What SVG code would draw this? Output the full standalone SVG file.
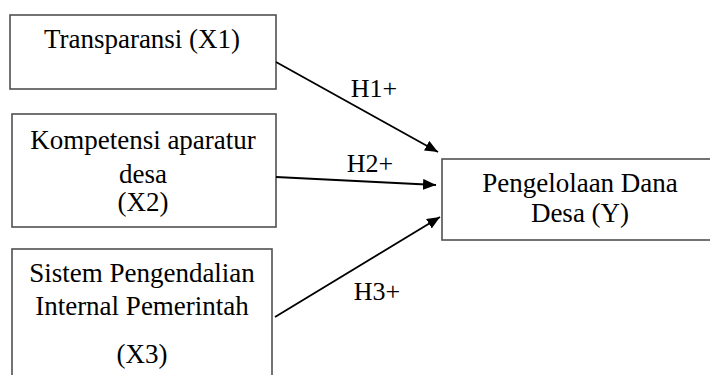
<svg xmlns="http://www.w3.org/2000/svg" width="710" height="375" viewBox="0 0 710 375">
<defs>
<style>
.box{fill:#fff;stroke:#505050;stroke-width:1.6}
.t{font-family:"Liberation Serif","Times New Roman",serif;font-size:27px;fill:#000;text-anchor:middle}
.lbl{font-family:"Liberation Serif","Times New Roman",serif;font-size:26px;fill:#000;text-anchor:middle}
.arr{stroke:#000;stroke-width:1.8;fill:none;marker-end:url(#ah)}
</style>
<marker id="ah" markerUnits="userSpaceOnUse" markerWidth="14" markerHeight="12" refX="13" refY="5.5" orient="auto">
<path d="M0,0 L13,5.5 L0,11 z" fill="#000"/>
</marker>
</defs>
<rect width="710" height="375" fill="#fff"/>
<g id="x1">
<rect class="box" x="10" y="15" width="266" height="74"/>
<text class="t" x="142" y="48">Transparansi (X1)</text>
</g>
<g id="x2">
<rect class="box" x="12" y="114" width="264" height="113"/>
<text class="t" x="143" y="149">Kompetensi aparatur</text>
<text class="t" x="143" y="183">desa</text>
<text class="t" x="143" y="211">(X2)</text>
</g>
<g id="x3">
<rect class="box" x="12" y="249" width="260" height="140"/>
<text class="t" x="142" y="282">Sistem Pengendalian</text>
<text class="t" x="142" y="315">Internal Pemerintah</text>
<text class="t" x="142" y="363">(X3)</text>
</g>
<g id="y">
<rect class="box" x="442" y="159" width="280" height="81"/>
<text class="t" x="580" y="192">Pengelolaan Dana</text>
<text class="t" x="580" y="222">Desa (Y)</text>
</g>
<g id="connectors">
<line class="arr" x1="276" y1="62" x2="438" y2="152"/>
<line class="arr" x1="276" y1="177" x2="436" y2="185"/>
<line class="arr" x1="275" y1="317" x2="440" y2="217"/>
<text class="lbl" x="374" y="97">H1+</text>
<text class="lbl" x="370" y="172">H2+</text>
<text class="lbl" x="377" y="300">H3+</text>
</g>
</svg>
